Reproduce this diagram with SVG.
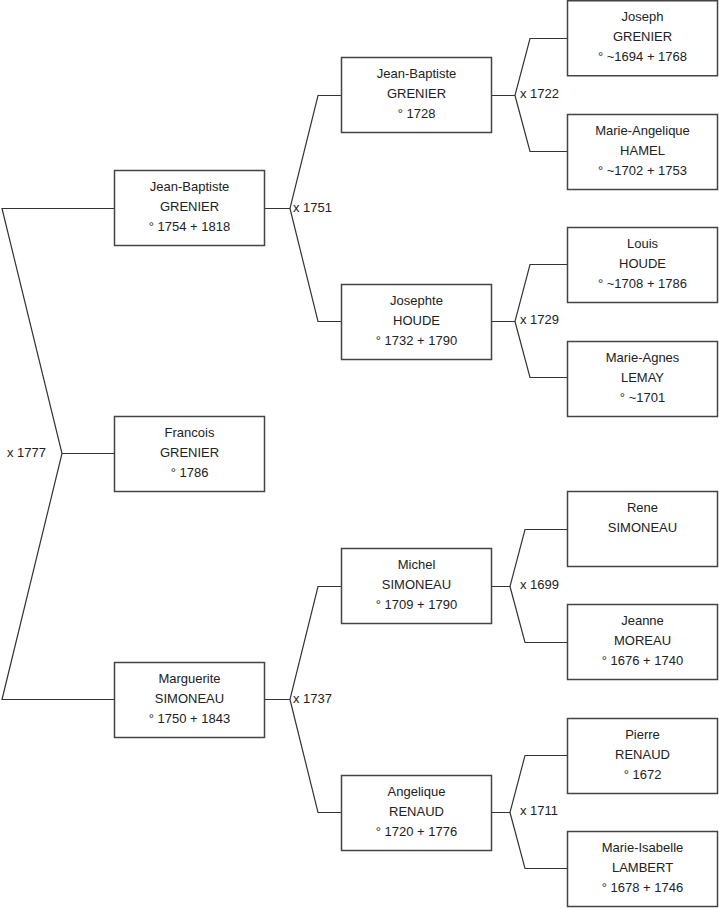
<svg xmlns="http://www.w3.org/2000/svg" width="719" height="908" viewBox="0 0 719 908">
<style>
rect.b{fill:#fff;stroke:#444;stroke-width:1.5}
text{font-family:"Liberation Sans",Arial,sans-serif;font-size:13px;fill:#222}
.n text{text-anchor:middle}
#connectors path{fill:none;stroke:#333;stroke-width:1.2}
</style>
<rect width="719" height="908" fill="#fff"/>
<g id="connectors">
<path d="M114,208.5H2L62,453.5L2,699.5H114M62,453.5H114"/>
<path d="M265,208.5H290L318,95.5H341M290,208.5L318,321.5H341"/>
<path d="M265,699.5H290L318,586.5H341M290,699.5L318,812.5H341"/>
<path d="M492,95.5H515L530,38.5H567M515,95.5L530,151.5H567"/>
<path d="M492,321.5H515L530,264.5H567M515,321.5L530,377.5H567"/>
<path d="M492,586.5H510L525,529.5H567M510,586.5L525,642.5H567"/>
<path d="M492,812.5H510L525,755.5H567M510,812.5L525,868.5H567"/>
<text x="7" y="457">x 1777</text>
<text x="293" y="212">x 1751</text>
<text x="293" y="703">x 1737</text>
<text x="520" y="98">x 1722</text>
<text x="520" y="324">x 1729</text>
<text x="520" y="589">x 1699</text>
<text x="520" y="815">x 1711</text>
</g>
<g id="n1" class="n"><rect class="b" x="114.5" y="170.5" width="150" height="75"/><text x="189.5" y="191">Jean-Baptiste</text><text x="189.5" y="211">GRENIER</text><text x="189.5" y="231">° 1754 + 1818</text></g>
<g id="n2" class="n"><rect class="b" x="114.5" y="416.5" width="150" height="75"/><text x="189.5" y="437">Francois</text><text x="189.5" y="457">GRENIER</text><text x="189.5" y="477">° 1786</text></g>
<g id="n3" class="n"><rect class="b" x="114.5" y="662.5" width="150" height="75"/><text x="189.5" y="683">Marguerite</text><text x="189.5" y="703">SIMONEAU</text><text x="189.5" y="723">° 1750 + 1843</text></g>
<g id="n4" class="n"><rect class="b" x="341.5" y="57.5" width="150" height="75"/><text x="416.5" y="78">Jean-Baptiste</text><text x="416.5" y="98">GRENIER</text><text x="416.5" y="118">° 1728</text></g>
<g id="n5" class="n"><rect class="b" x="341.5" y="284.5" width="150" height="75"/><text x="416.5" y="305">Josephte</text><text x="416.5" y="325">HOUDE</text><text x="416.5" y="345">° 1732 + 1790</text></g>
<g id="n6" class="n"><rect class="b" x="341.5" y="548.5" width="150" height="75"/><text x="416.5" y="569">Michel</text><text x="416.5" y="589">SIMONEAU</text><text x="416.5" y="609">° 1709 + 1790</text></g>
<g id="n7" class="n"><rect class="b" x="341.5" y="775.5" width="150" height="75"/><text x="416.5" y="796">Angelique</text><text x="416.5" y="816">RENAUD</text><text x="416.5" y="836">° 1720 + 1776</text></g>
<g id="n8" class="n"><rect class="b" x="567.5" y="0.75" width="150" height="75"/><text x="642.5" y="21">Joseph</text><text x="642.5" y="41">GRENIER</text><text x="642.5" y="61">° ~1694 + 1768</text></g>
<g id="n9" class="n"><rect class="b" x="567.5" y="114.5" width="150" height="75"/><text x="642.5" y="135">Marie-Angelique</text><text x="642.5" y="155">HAMEL</text><text x="642.5" y="175">° ~1702 + 1753</text></g>
<g id="n10" class="n"><rect class="b" x="567.5" y="227.5" width="150" height="75"/><text x="642.5" y="248">Louis</text><text x="642.5" y="268">HOUDE</text><text x="642.5" y="288">° ~1708 + 1786</text></g>
<g id="n11" class="n"><rect class="b" x="567.5" y="341.5" width="150" height="75"/><text x="642.5" y="362">Marie-Agnes</text><text x="642.5" y="382">LEMAY</text><text x="642.5" y="402">° ~1701</text></g>
<g id="n12" class="n"><rect class="b" x="567.5" y="491.5" width="150" height="75"/><text x="642.5" y="512">Rene</text><text x="642.5" y="532">SIMONEAU</text></g>
<g id="n13" class="n"><rect class="b" x="567.5" y="604.5" width="150" height="75"/><text x="642.5" y="625">Jeanne</text><text x="642.5" y="645">MOREAU</text><text x="642.5" y="665">° 1676 + 1740</text></g>
<g id="n14" class="n"><rect class="b" x="567.5" y="718.5" width="150" height="75"/><text x="642.5" y="739">Pierre</text><text x="642.5" y="759">RENAUD</text><text x="642.5" y="779">° 1672</text></g>
<g id="n15" class="n"><rect class="b" x="567.5" y="831.5" width="150" height="75"/><text x="642.5" y="852">Marie-Isabelle</text><text x="642.5" y="872">LAMBERT</text><text x="642.5" y="892">° 1678 + 1746</text></g>
</svg>
